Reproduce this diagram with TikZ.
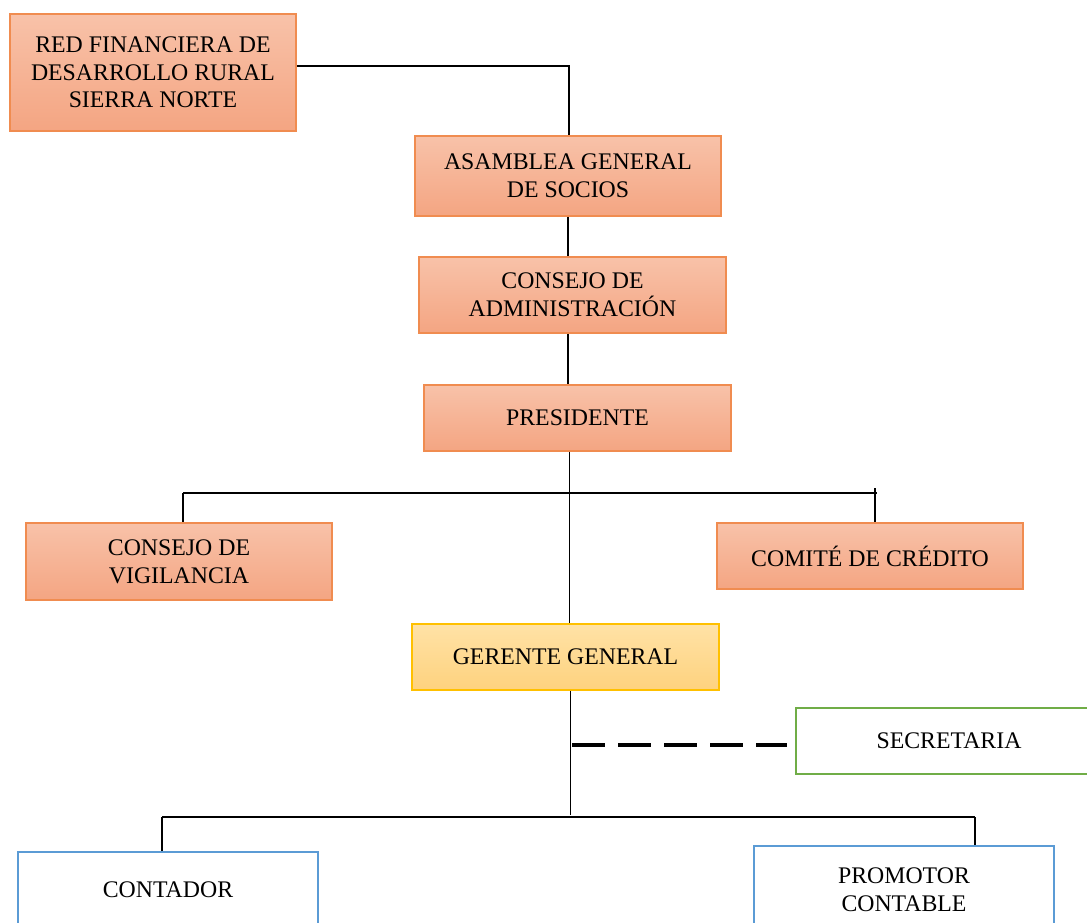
\documentclass[tikz,border=0pt]{standalone}
\usepackage{fontspec}
\setmainfont{Liberation Serif}
\definecolor{orTop}{HTML}{F8C2A9}
\definecolor{orBot}{HTML}{F4A582}
\definecolor{orLine}{HTML}{F08C50}
\definecolor{yeTop}{HTML}{FFE2A6}
\definecolor{yeBot}{HTML}{FED27E}
\definecolor{yeLine}{HTML}{FFC000}
\definecolor{grLine}{HTML}{70AD47}
\definecolor{blLine}{HTML}{5B9BD5}
\tikzset{
  box/.style={rectangle, inner sep=0pt, align=center, line width=1.5pt,
    font=\fontsize{23.8}{27.6}\selectfont},
  orbox/.style={box, draw=orLine, top color=orTop, bottom color=orBot},
  yebox/.style={box, draw=yeLine, top color=yeTop, bottom color=yeBot},
  grbox/.style={box, draw=grLine, fill=white, line width=2pt},
  blbox/.style={box, draw=blLine, fill=white, line width=2.2pt},
  conn/.style={draw=black, line width=1.3pt},
  dashline/.style={draw=black, line width=4pt, dash pattern=on 33pt off 13pt}
}
\begin{document}
\begin{tikzpicture}[x=1pt,y=-1pt]
\useasboundingbox (0,0) rectangle (1087,923);
\clip (0,0) rectangle (1087,923);
\fill[white] (0,0) rectangle (1087,923);

% nodes
\node[orbox, minimum width=286pt, minimum height=117pt] (red) at (153,72.5)
  {RED FINANCIERA DE\\DESARROLLO RURAL\\SIERRA NORTE};
\node[orbox, minimum width=306pt, minimum height=80pt] (asam) at (568,176)
  {ASAMBLEA GENERAL\\DE SOCIOS};
\node[orbox, minimum width=307pt, minimum height=76pt] (cons) at (572.5,295)
  {CONSEJO DE\\ADMINISTRACIÓN};
\node[orbox, minimum width=307pt, minimum height=66pt] (pres) at (577.5,418)
  {PRESIDENTE};
\node[orbox, minimum width=306pt, minimum height=77pt] (vig) at (179,561.5)
  {CONSEJO DE\\VIGILANCIA};
\node[orbox, minimum width=306pt, minimum height=66pt] (com) at (870,556)
  {COMITÉ DE CRÉDITO};
\node[yebox, minimum width=307pt, minimum height=66pt] (ger) at (565.5,657)
  {GERENTE GENERAL};
\node[grbox, minimum width=306pt, minimum height=66pt] (sec) at (949,741)
  {SECRETARIA};
\node[blbox, minimum width=300pt, minimum height=76pt] (cont) at (168,890)
  {CONTADOR};
\node[blbox, minimum width=300pt, minimum height=88pt] (prom) at (904,890)
  {PROMOTOR\\CONTABLE};

% junction coordinates
\coordinate (j1) at (569,66);
\coordinate (spA) at (568,0);
\coordinate (spB) at (569.5,0);
\coordinate (spC) at (570.5,0);
\coordinate (b1) at (183,493);
\coordinate (b2) at (877,493);
\coordinate (t2) at (875,488);
\coordinate (b3) at (570.5,815);
\coordinate (d1) at (572,745);
\coordinate (d2) at (787,745);
\coordinate (c1) at (162,817);
\coordinate (c2) at (975,817);

% connectors
\draw[conn] (red.east |- j1) -- (j1) -- (j1 |- asam.north);
\draw[conn] (spA |- asam.south) -- (spA |- cons.north);
\draw[conn] (spA |- cons.south) -- (spA |- pres.north);
\draw[conn] (spB |- pres.south) -- (spB |- ger.north);
\draw[conn] (b1) -- (b2);
\draw[conn] (b1) -- (b1 |- vig.north);
\draw[conn] (t2) -- (t2 |- com.north);
\draw[conn] (spC |- ger.south) -- (b3);
\draw[dashline] (d1) -- (d2);
\draw[conn] (c1) -- (c2);
\draw[conn] (c1) -- (c1 |- cont.north);
\draw[conn] (c2) -- (c2 |- prom.north);
\end{tikzpicture}
\end{document}
